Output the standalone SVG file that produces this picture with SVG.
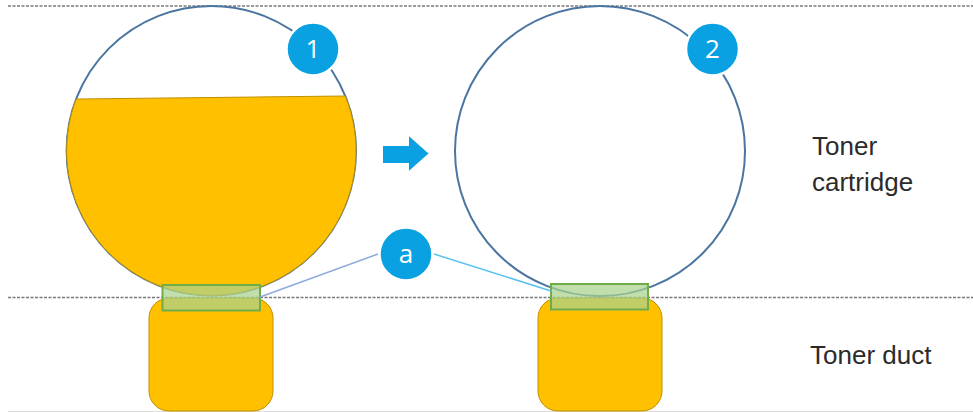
<svg xmlns="http://www.w3.org/2000/svg" width="973" height="412" viewBox="0 0 973 412">
<style>
.sep{stroke:#7a7a7a;stroke-width:1.5;stroke-dasharray:3 1.5;fill:none}
.tank{fill:#ffffff;stroke:#4a75a0;stroke-width:2}
.toner{fill:#FFC000;stroke:#BF9000;stroke-width:1}
.duct{fill:#FFC000;stroke:#BF9000;stroke-width:1}
.seal{fill:#A9D18E;fill-opacity:0.72;stroke:#70AD47;stroke-width:2}
.badge{fill:#0AA1E2;stroke:#ffffff;stroke-width:2.5}
.btxt{fill:#ffffff;font-family:"Open Sans","Liberation Sans",sans-serif;font-size:26px;text-anchor:middle}
.lbl{fill:#2b2b2b;font-family:"Liberation Sans",Arial,sans-serif;font-size:26px}
</style>
<g id="separators">
<line class="sep" x1="8" y1="6" x2="973" y2="6"/>
<line class="sep" x1="8" y1="297.5" x2="973" y2="297.5"/>
<line x1="8" y1="411.5" x2="973" y2="411.5" stroke="#dddddd" stroke-width="1"/>
</g>
<g id="cartridge-full">
<circle class="tank" cx="211.3" cy="150.7" r="144.7"/>
<path class="toner" d="M76.2 99 L345.3 96 A144.7 144.7 0 1 1 76.2 99 Z"/>
</g>
<g id="cartridge-empty">
<circle class="tank" cx="600" cy="151" r="145"/>
</g>
<g id="duct-left"><rect class="duct" x="149" y="298" width="124" height="113" rx="20"/></g>
<g id="duct-right"><rect class="duct" x="538" y="298" width="124" height="113" rx="20"/></g>
<g id="seal-left"><rect class="seal" x="162.5" y="285" width="97.5" height="25.5"/></g>
<g id="seal-right"><rect class="seal" x="551" y="284" width="97" height="25.5"/></g>
<g id="connectors">
<line x1="378" y1="254" x2="260" y2="297" stroke="#8FAADC" stroke-width="1.5"/>
<line x1="434" y1="254" x2="551" y2="291" stroke="#56C2EE" stroke-width="1.5"/>
</g>
<g id="arrow">
<path d="M382 145 L408 145 L408 134 L430 153.5 L408 173 L408 164 L382 164 Z" fill="#0AA1E2" stroke="#ffffff" stroke-width="2"/>
</g>
<g id="badge-1"><circle class="badge" cx="313" cy="49" r="26.5"/><text class="btxt" x="313" y="58.3">1</text></g>
<g id="badge-2"><circle class="badge" cx="712.5" cy="49" r="26.5"/><text class="btxt" x="712.5" y="58.3">2</text></g>
<g id="badge-a"><circle class="badge" cx="406" cy="254" r="26.5"/><text class="btxt" x="406" y="263">a</text></g>
<g id="labels">
<text class="lbl" x="812" y="155">Toner</text>
<text class="lbl" x="812" y="191">cartridge</text>
<text class="lbl" x="810" y="364">Toner duct</text>
</g>
</svg>
